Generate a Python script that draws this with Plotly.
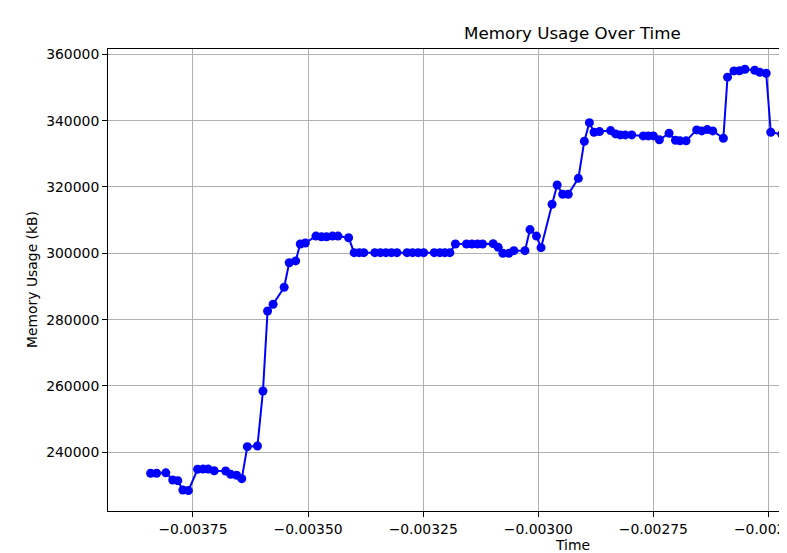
import plotly.graph_objects as go

time_s = [
    -0.003842, -0.003829, -0.003809, -0.003794, -0.003783, -0.003772, -0.003760,
    -0.003740, -0.003728, -0.003717, -0.003704, -0.003679, -0.003668, -0.003655,
    -0.003644, -0.003632, -0.003610, -0.003598, -0.003588, -0.003576, -0.003552,
    -0.003541, -0.003527, -0.003517, -0.003506, -0.003483, -0.003471, -0.003460,
    -0.003447, -0.003435, -0.003412, -0.003400, -0.003389, -0.003379, -0.003355,
    -0.003343, -0.003331, -0.003319, -0.003307, -0.003285, -0.003273, -0.003261,
    -0.003249, -0.003226, -0.003214, -0.003203, -0.003192, -0.003180, -0.003156,
    -0.003144, -0.003132, -0.003121, -0.003098, -0.003087, -0.003077, -0.003064,
    -0.003053, -0.003029, -0.003018, -0.003004, -0.002994, -0.002970, -0.002959,
    -0.002947, -0.002935, -0.002913, -0.002900, -0.002889, -0.002879, -0.002867,
    -0.002843, -0.002832, -0.002822, -0.002811, -0.002797, -0.002772, -0.002761,
    -0.002750, -0.002737, -0.002716, -0.002702, -0.002692, -0.002679, -0.002656,
    -0.002645, -0.002633, -0.002621, -0.002598, -0.002589, -0.002575, -0.002563,
    -0.002551, -0.002530, -0.002519, -0.002505, -0.002495, -0.002471, -0.002461,
]

memory_kb = [
    233700, 233700, 233800, 231650, 231450, 228650, 228450,
    234900, 234950, 234950, 234450, 234350, 233350, 233050,
    232050, 241700, 241900, 258500, 282600, 284650, 289750,
    297150, 297700, 302800, 303100, 305200, 305000, 305000,
    305200, 305200, 304700, 300200, 300200, 300200, 300200,
    300200, 300200, 300200, 300200, 300200, 300200, 300200,
    300200, 300200, 300200, 300200, 300200, 302800, 302800,
    302800, 302800, 302800, 302900, 301800, 300000, 300000,
    300800, 300800, 307150, 305200, 301700, 314800, 320600,
    317800, 317800, 322600, 333800, 339400, 336500, 336700,
    337000, 336000, 335700, 335700, 335700, 335400, 335400,
    335400, 334200, 336200, 334100, 333900, 333900, 337200,
    336900, 337300, 336900, 334700, 353100, 355000, 355050,
    355500, 355200, 354600, 354300, 336500, 335900, 335900,
]

x_tick_vals = [-0.00375, -0.00350, -0.00325, -0.00300, -0.00275, -0.00250]
x_tick_text = ["\u22120.00375", "\u22120.00350", "\u22120.00325", "\u22120.00300", "\u22120.00275", "\u22120.00250"]
y_tick_vals = [240000, 260000, 280000, 300000, 320000, 340000, 360000]
y_tick_text = [str(v) for v in y_tick_vals]

title_text = "Memory Usage Over Time"
x_title = "Time"
y_title = "Memory Usage (kB)"

FONT = "DejaVu Sans"

fig = go.Figure()
fig.add_trace(go.Scatter(
    x=time_s, y=memory_kb, mode="lines+markers",
    line=dict(color="#0000ff", width=2),
    marker=dict(color="#0000ff", size=9, line=dict(width=0)),
    cliponaxis=False, showlegend=False,
))

fig.update_layout(
    width=779, height=545,
    margin=dict(l=100, r=0, t=41, b=42),
    paper_bgcolor="white", plot_bgcolor="white",
    font=dict(family=FONT, size=14, color="black"),
    showlegend=False,
    annotations=[
        dict(text=title_text, xref="paper", yref="paper", x=0.6848, y=1.0,
             xanchor="center", yanchor="bottom", yshift=4, showarrow=False,
             font=dict(family=FONT, size=16.7, color="black")),
        dict(text=x_title, xref="paper", yref="paper", x=0.6848, y=0.0,
             xanchor="center", yanchor="top", yshift=-24, showarrow=False,
             font=dict(family=FONT, size=13.9, color="black")),
        dict(text=y_title, xref="paper", yref="paper", x=0.0, y=0.5,
             xanchor="center", yanchor="middle", xshift=-76, textangle=-90,
             showarrow=False, font=dict(family=FONT, size=13.9, color="black")),
    ],
)

fig.update_xaxes(
    range=[-0.0039346, -0.0024598], autorange=False,
    tickmode="array", tickvals=x_tick_vals, ticktext=x_tick_text,
    ticks="outside", ticklen=5, tickwidth=1, tickcolor="black",
    showline=True, linecolor="black", linewidth=1, mirror=True,
    showgrid=True, gridcolor="#b0b0b0", gridwidth=1,
    zeroline=False, automargin=False, ticklabeloverflow="allow",
    tickfont=dict(family=FONT, size=13.9, color="black"),
)
fig.update_yaxes(
    range=[222305, 361598], autorange=False,
    tickmode="array", tickvals=y_tick_vals, ticktext=y_tick_text,
    ticks="outside", ticklen=5, tickwidth=1, tickcolor="black",
    showline=True, linecolor="black", linewidth=1, mirror=False,
    showgrid=True, gridcolor="#b0b0b0", gridwidth=1,
    zeroline=False, automargin=False, ticklabeloverflow="allow",
    tickfont=dict(family=FONT, size=13.9, color="black"),
)

fig.write_html("out.html")
